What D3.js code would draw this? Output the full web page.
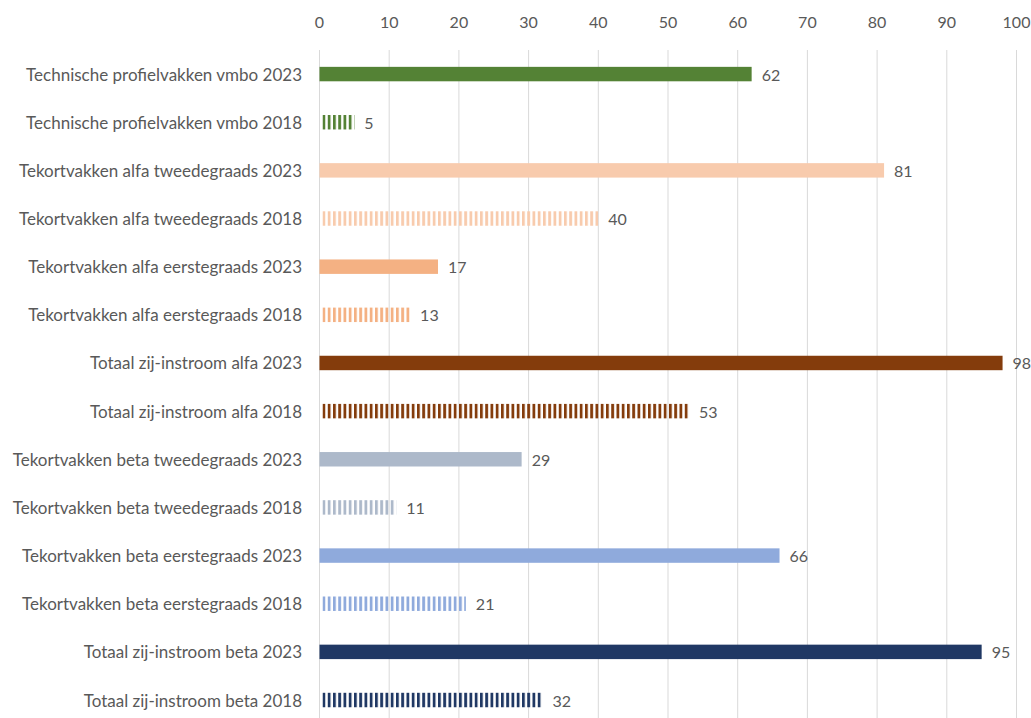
<!DOCTYPE html>
<html>
<head>
<meta charset="utf-8">
<script src="https://cdn.jsdelivr.net/npm/d3@7"></script>
<style>
  html, body { margin: 0; padding: 0; background: #fff; }
  svg { display: block; font-family: Lato, "Open Sans", sans-serif; }
</style>
</head>
<body>
<svg id="chart" width="1031" height="718"></svg>
<script>
const categories = [
  "Technische profielvakken vmbo 2023",
  "Technische profielvakken vmbo 2018",
  "Tekortvakken alfa tweedegraads 2023",
  "Tekortvakken alfa tweedegraads 2018",
  "Tekortvakken alfa eerstegraads 2023",
  "Tekortvakken alfa eerstegraads 2018",
  "Totaal zij-instroom alfa 2023",
  "Totaal zij-instroom alfa 2018",
  "Tekortvakken beta tweedegraads 2023",
  "Tekortvakken beta tweedegraads 2018",
  "Tekortvakken beta eerstegraads 2023",
  "Tekortvakken beta eerstegraads 2018",
  "Totaal zij-instroom beta 2023",
  "Totaal zij-instroom beta 2018"
];
const values = [62, 5, 81, 40, 17, 13, 98, 53, 29, 11, 66, 21, 95, 32];
const colors = ["#548235", "#548235", "#F8CBAD", "#F8CBAD", "#F4B183", "#F4B183",
                "#843C0C", "#843C0C", "#ADB9CA", "#ADB9CA", "#8FAADC", "#8FAADC",
                "#203864", "#203864"];
const striped = [false, true, false, true, false, true, false, true, false, true, false, true, false, true];
const tickValues = [0, 10, 20, 30, 40, 50, 60, 70, 80, 90, 100];

const svg = d3.select("#chart");
const x = d3.scaleLinear().domain([0, 100]).range([319.5, 1016.5]);
const y = d3.scaleBand().domain(categories).range([50, 50 + 14 * 48.15]).paddingInner(0.7).paddingOuter(0.35);

// patterns
const defs = svg.append("defs");
const uniqueColors = Array.from(new Set(colors));
uniqueColors.forEach((c, i) => {
  const p = defs.append("pattern")
    .attr("id", "stripe" + i)
    .attr("patternUnits", "userSpaceOnUse")
    .attr("width", 5.25).attr("height", 10)
    .attr("x", 322.5);
  p.append("rect").attr("x", 0).attr("y", 0).attr("width", 2.8).attr("height", 10).attr("fill", c);
});
const patternFor = c => "url(#stripe" + uniqueColors.indexOf(c) + ")";

// gridlines
svg.append("g").selectAll("line").data(tickValues).join("line")
  .attr("x1", d => x(d)).attr("x2", d => x(d))
  .attr("y1", 50).attr("y2", 718)
  .attr("stroke", "#D9D9D9").attr("stroke-width", 1);

// tick labels
svg.append("g").selectAll("text").data(tickValues).join("text")
  .attr("x", d => x(d)).attr("y", 21)
  .attr("text-anchor", "middle").attr("dominant-baseline", "central")
  .attr("font-size", 16).attr("fill", "#595959")
  .text(d => d);

// bars
const bars = svg.append("g");
categories.forEach((cat, i) => {
  const v = values[i];
  const x0 = striped[i] ? x(0) + 3 : x(0);
  bars.append("rect")
    .attr("x", x0)
    .attr("y", y(cat))
    .attr("width", Math.max(0, x(v) - x0))
    .attr("height", y.bandwidth())
    .attr("fill", striped[i] ? patternFor(colors[i]) : colors[i]);
});

// value labels
svg.append("g").selectAll("text").data(categories).join("text")
  .attr("x", (d, i) => x(values[i]) + 10)
  .attr("y", d => y(d) + y.bandwidth() / 2)
  .attr("dominant-baseline", "central")
  .attr("font-size", 16).attr("fill", "#595959")
  .text((d, i) => values[i]);

// category labels
svg.append("g").selectAll("text").data(categories).join("text")
  .attr("x", 302)
  .attr("y", d => y(d) + y.bandwidth() / 2)
  .attr("text-anchor", "end").attr("dominant-baseline", "central")
  .attr("font-size", 17).attr("fill", "#595959")
  .text(d => d);
</script>
</body>
</html>
